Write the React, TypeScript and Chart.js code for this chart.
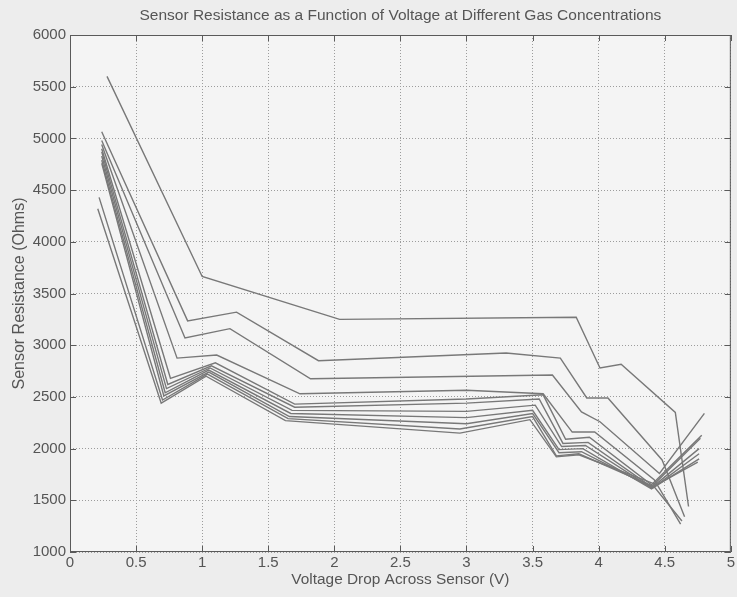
import React, { useEffect, useRef } from 'react';
import { Chart, registerables } from 'chart.js';

Chart.register(...registerables);

// Axis ticks
const xTicks = [0, 0.5, 1, 1.5, 2, 2.5, 3, 3.5, 4, 4.5, 5];
const yTicks = [1000, 1500, 2000, 2500, 3000, 3500, 4000, 4500, 5000, 5500, 6000];

// Curves: voltage (V) and resistance (Ohms)
const volt1 = [0.28, 1.0, 2.04, 3.83, 4.01, 4.17, 4.58, 4.68];
const res1 = [5600, 3665, 3250, 3270, 2780, 2815, 2350, 1440];

const volt2 = [0.24, 0.89, 1.26, 1.88, 3.3, 3.71, 3.91, 4.07, 4.48, 4.65];
const res2 = [5065, 3235, 3320, 2850, 2925, 2875, 2490, 2490, 1890, 1340];

const volt3 = [0.24, 0.87, 1.21, 1.82, 3.65, 3.87, 4.01, 4.46, 4.8];
const res3 = [4980, 3070, 3160, 2675, 2712, 2355, 2260, 1760, 2340];

const volt4 = [0.24, 0.81, 1.11, 1.74, 3.0, 3.58, 3.8, 3.97, 4.42, 4.62];
const res4 = [4940, 2875, 2905, 2530, 2565, 2530, 2160, 2160, 1700, 1270];

const volt5 = [0.24, 0.76, 1.1, 1.7, 3.0, 3.58, 3.75, 3.93, 4.4, 4.78];
const res5 = [4900, 2680, 2830, 2430, 2480, 2520, 2090, 2110, 1650, 2130];

const volt6 = [0.24, 0.74, 1.07, 1.7, 3.0, 3.55, 3.73, 3.92, 4.4, 4.77];
const res6 = [4870, 2620, 2800, 2400, 2440, 2480, 2050, 2060, 1630, 2100];

const volt7 = [0.24, 0.73, 1.06, 1.68, 3.0, 3.52, 3.72, 3.9, 4.4, 4.76];
const res7 = [4830, 2580, 2780, 2370, 2360, 2420, 2020, 2030, 1620, 2000];

const volt8 = [0.24, 0.72, 1.05, 1.67, 3.0, 3.5, 3.7, 3.88, 4.4, 4.76];
const res8 = [4790, 2540, 2760, 2340, 2300, 2370, 1990, 2000, 1610, 1950];

const volt9 = [0.24, 0.71, 1.05, 1.66, 3.0, 3.5, 3.7, 3.87, 4.41, 4.76];
const res9 = [4760, 2510, 2740, 2310, 2240, 2340, 1960, 1970, 1620, 1900];

const volt10 = [0.22, 0.7, 1.04, 1.65, 2.95, 3.5, 3.68, 3.85, 4.42, 4.63];
const res10 = [4430, 2470, 2720, 2290, 2190, 2310, 1930, 1950, 1630, 1300];

const volt11 = [0.21, 0.69, 1.03, 1.63, 2.95, 3.48, 3.68, 3.85, 4.44, 4.75];
const res11 = [4320, 2440, 2700, 2270, 2150, 2280, 1920, 1940, 1650, 1870];

const curves: [number[], number[]][] = [
  [volt1, res1], [volt2, res2], [volt3, res3], [volt4, res4], [volt5, res5],
  [volt6, res6], [volt7, res7], [volt8, res8], [volt9, res9], [volt10, res10], [volt11, res11],
];

const TEXT = '#555555';
const FONT = "'Liberation Sans', Arial, sans-serif";

const frame = {
  id: 'matlabFrame',
  beforeDraw(chart: any) {
    const { ctx, width, height, chartArea: a } = chart;
    ctx.save();
    ctx.fillStyle = '#ededed';
    ctx.fillRect(0, 0, width, height);
    ctx.fillStyle = '#f4f4f4';
    ctx.fillRect(a.left, a.top, a.right - a.left, a.bottom - a.top);
    ctx.restore();
  },
  afterDraw(chart: any) {
    const { ctx, chartArea: a, scales } = chart;
    ctx.save();
    ctx.strokeStyle = '#5a5a5a';
    ctx.lineWidth = 1;
    ctx.strokeRect(a.left + 0.5, a.top + 0.5, a.right - a.left - 1, a.bottom - a.top - 1);
    const L = 6;
    ctx.beginPath();
    for (const t of xTicks) {
      const x = Math.round(scales.x.getPixelForValue(t)) + 0.5;
      ctx.moveTo(x, a.bottom);
      ctx.lineTo(x, a.bottom - L);
      ctx.moveTo(x, a.top);
      ctx.lineTo(x, a.top + L);
    }
    for (const t of yTicks) {
      const y = Math.round(scales.y.getPixelForValue(t)) + 0.5;
      ctx.moveTo(a.left, y);
      ctx.lineTo(a.left + L, y);
      ctx.moveTo(a.right, y);
      ctx.lineTo(a.right - L, y);
    }
    ctx.stroke();
    ctx.restore();
  },
};

export default function App() {
  const ref = useRef<HTMLCanvasElement>(null);

  useEffect(() => {
    document.body.style.margin = '0';
    if (!ref.current) return;
    const chart = new Chart(ref.current, {
      type: 'line',
      data: {
        datasets: curves.map(([xs, ys], i) => ({
          label: 'c' + (i + 1),
          data: xs.map((x, j) => ({ x, y: ys[j] })),
          borderColor: '#787878',
          borderWidth: 1.4,
          pointRadius: 0,
          tension: 0,
          fill: false,
        })),
      },
      options: {
        responsive: false,
        animation: false,
        devicePixelRatio: 1,
        layout: { padding: { top: 0, right: 6, left: 0, bottom: 0 } },
        plugins: {
          legend: { display: false },
          tooltip: { enabled: false },
          title: {
            display: true,
            text: 'Sensor Resistance as a Function of Voltage at Different Gas Concentrations',
            color: TEXT,
            font: { family: FONT, size: 15.5, weight: 'normal', lineHeight: 1.2 },
            padding: { top: 6, bottom: 10.4 },
            fullSize: false,
          },
        },
        scales: {
          x: {
            type: 'linear',
            min: 0,
            max: 5,
            afterBuildTicks: (s: any) => { s.ticks = xTicks.map((v) => ({ value: v })); },
            afterFit: (s: any) => { s.height = 45; },
            ticks: {
              color: TEXT,
              font: { family: FONT, size: 15 },
              padding: 2,
              maxRotation: 0,
              callback: (v: any) => String(v),
            },
            grid: { color: '#9c9c9c', lineWidth: 1, drawTicks: false },
            border: { display: false, dash: [1, 2] },
            title: {
              display: true,
              text: 'Voltage Drop Across Sensor (V)',
              color: TEXT,
              font: { family: FONT, size: 15.4 },
              padding: { top: 0, bottom: 8 },
            },
          },
          y: {
            type: 'linear',
            min: 1000,
            max: 6000,
            afterBuildTicks: (s: any) => { s.ticks = yTicks.map((v) => ({ value: v })); },
            afterFit: (s: any) => { s.width = 70; },
            ticks: {
              color: TEXT,
              font: { family: FONT, size: 15 },
              padding: 4,
              callback: (v: any) => String(v),
            },
            grid: { color: '#9c9c9c', lineWidth: 1, drawTicks: false },
            border: { display: false, dash: [1, 2] },
            title: {
              display: true,
              text: 'Sensor Resistance (Ohms)',
              color: TEXT,
              font: { family: FONT, size: 16 },
              padding: { top: 10, bottom: 0 },
            },
          },
        },
      },
      plugins: [frame],
    });
    return () => chart.destroy();
  }, []);

  return (
    <div style={{ width: 737, height: 597 }}>
      <canvas ref={ref} width={737} height={597} style={{ display: 'block' }} />
    </div>
  );
}
